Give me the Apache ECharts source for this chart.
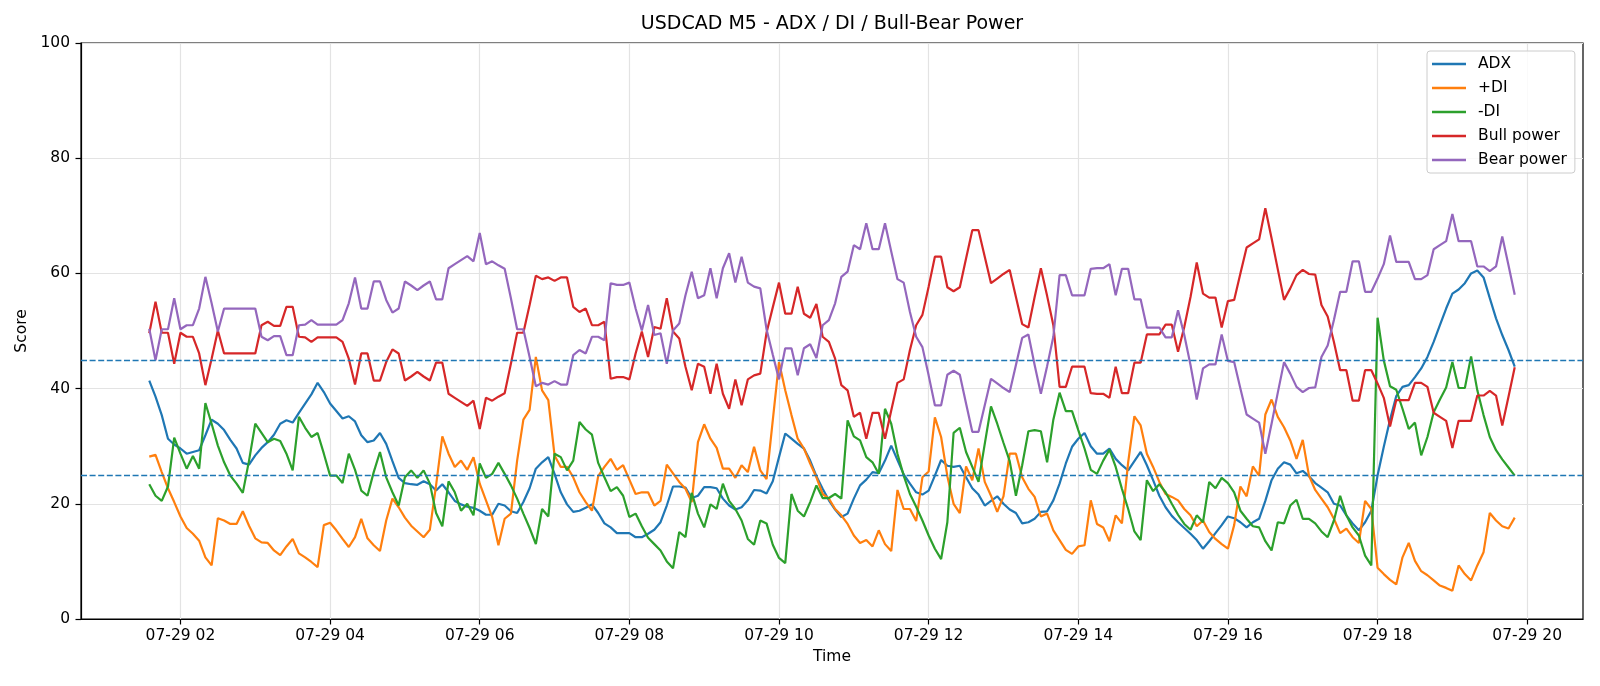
<!DOCTYPE html>
<html>
<head>
<meta charset="utf-8">
<title>USDCAD M5 - ADX / DI / Bull-Bear Power</title>
<script src="https://cdn.jsdelivr.net/npm/echarts@6/dist/echarts.min.js"></script>
<style>
  html, body { margin: 0; padding: 0; background: #fff; }
  #chart { width: 1600px; height: 686px; }
</style>
</head>
<body>
<div id="chart"></div>
<script>
// 5 minute bars, 07-29 01:35 .. 19:50
const startTime = Date.UTC(2024, 6, 29, 1, 35)
const stepMs = 5 * 60 * 1000

const adx = [
  41.4, 38.6, 35.4, 31.3, 30.3, 29.6, 28.7, 29.0, 29.3, 31.9,
  34.6, 33.9, 32.8, 31.1, 29.6, 27.1, 26.8, 28.4, 29.7, 30.7,
  32.0, 33.9, 34.5, 34.1, 35.8, 37.4, 39.0, 41.0, 39.4, 37.4,
  36.1, 34.8, 35.2, 34.3, 31.9, 30.7, 31.0, 32.3, 30.4, 27.4,
  24.5, 23.6, 23.4, 23.3, 23.9, 23.4, 22.3, 23.4, 22.0, 20.5,
  19.9, 19.5, 19.3, 18.8, 18.1, 18.1, 20.0, 19.7, 18.7, 18.4,
  20.3, 22.7, 26.1, 27.2, 28.1, 25.2, 22.0, 19.9, 18.6, 18.8,
  19.3, 19.9, 18.4, 16.6, 15.9, 14.9, 14.9, 14.9, 14.2, 14.2,
  14.8, 15.5, 16.8, 19.7, 23.0, 23.0, 22.8, 21.0, 21.4, 22.9,
  22.9, 22.7, 20.9, 19.7, 19.0, 19.4, 20.6, 22.4, 22.3, 21.8,
  23.9, 28.1, 32.2, 31.3, 30.4, 29.6, 27.5, 24.8, 22.6, 20.6,
  19.0, 17.7, 18.3, 20.9, 23.2, 24.2, 25.5, 25.3, 27.5, 30.1,
  27.6, 25.1, 23.5, 22.0, 21.6, 22.3, 24.9, 27.6, 26.6, 26.4,
  26.6, 24.6, 22.7, 21.6, 19.7, 20.5, 21.3, 20.0, 19.0, 18.4,
  16.6, 16.8, 17.4, 18.6, 18.7, 20.6, 23.5, 27.0, 29.9, 31.3,
  32.3, 30.0, 28.7, 28.7, 29.6, 27.8, 26.7, 25.8, 27.4, 29.0,
  26.7, 24.1, 21.4, 19.4, 17.9, 16.8, 15.8, 14.8, 13.7, 12.2,
  13.5, 14.9, 16.3, 17.8, 17.5, 16.8, 15.9, 16.8, 17.4, 20.5,
  24.1, 26.1, 27.2, 26.8, 25.3, 25.7, 24.8, 23.6, 22.8, 22.0,
  20.0, 19.7, 18.0, 16.6, 15.4, 16.8, 18.8, 24.9, 29.9, 34.6,
  38.7, 40.3, 40.6, 42.0, 43.5, 45.5, 48.1, 51.0, 53.9, 56.5,
  57.2, 58.3, 60.0, 60.5, 59.3, 55.7, 52.2, 49.3, 46.7, 43.8
]

const plusDi = [
  28.2, 28.5, 25.5, 22.7, 20.3, 17.8, 15.8, 14.8, 13.6, 10.7,
  9.3, 17.5, 17.1, 16.5, 16.5, 18.7, 16.2, 14.0, 13.3, 13.2,
  11.9, 11.1, 12.6, 13.9, 11.4, 10.7, 9.9, 9.0, 16.3, 16.7,
  15.4, 13.9, 12.5, 14.2, 17.4, 14.0, 12.8, 11.8, 17.1, 20.9,
  19.4, 17.6, 16.2, 15.2, 14.2, 15.5, 23.2, 31.7, 28.7, 26.4,
  27.5, 25.9, 28.1, 23.5, 20.6, 17.7, 12.8, 17.4, 18.3, 27.5,
  34.6, 36.3, 45.5, 39.7, 38.0, 28.4, 26.4, 26.4, 24.6, 22.0,
  20.3, 18.8, 24.8, 26.4, 27.8, 25.9, 26.7, 24.2, 21.7, 22.0,
  22.0, 19.7, 20.5, 26.8, 25.3, 23.8, 22.6, 20.3, 30.7, 33.8,
  31.3, 29.7, 26.1, 26.1, 24.5, 26.7, 25.5, 29.9, 25.8, 24.3,
  34.5, 44.6, 39.7, 35.4, 31.3, 29.6, 27.0, 24.6, 21.7, 20.9,
  19.1, 18.0, 16.5, 14.5, 13.2, 13.7, 12.6, 15.4, 13.0, 11.8,
  22.4, 19.1, 19.1, 17.0, 24.6, 25.6, 35.0, 31.6, 24.8, 20.0,
  18.4, 26.5, 24.1, 29.6, 23.8, 21.4, 18.6, 21.3, 28.7, 28.7,
  24.6, 22.6, 21.2, 17.8, 18.3, 15.4, 13.7, 12.0, 11.3, 12.6,
  12.8, 20.6, 16.5, 15.9, 13.5, 18.0, 16.6, 27.2, 35.2, 33.6,
  28.7, 26.4, 23.8, 21.7, 21.2, 20.6, 19.1, 18.0, 16.1, 17.1,
  15.1, 13.9, 13.0, 12.2, 16.3, 23.0, 21.3, 26.5, 24.9, 35.5,
  38.1, 35.1, 33.3, 31.0, 27.8, 31.1, 24.9, 22.4, 20.9, 19.4,
  17.4, 14.9, 15.7, 14.2, 13.2, 20.5, 19.1, 8.9, 7.8, 6.8,
  6.0, 10.7, 13.2, 10.1, 8.3, 7.6, 6.7, 5.8, 5.4, 4.9,
  9.3, 7.8, 6.7, 9.3, 11.6, 18.4, 17.1, 16.1, 15.7, 17.6
]

const minusDi = [
  23.4, 21.4, 20.5, 23.0, 31.5, 28.7, 26.1, 28.3, 26.1, 37.5,
  33.9, 30.1, 27.2, 24.9, 23.5, 21.9, 27.5, 33.9, 32.3, 30.7,
  31.3, 30.9, 28.7, 25.8, 35.1, 33.2, 31.6, 32.3, 28.7, 24.9,
  24.9, 23.6, 28.7, 25.9, 22.3, 21.4, 25.5, 29.0, 24.6, 22.0,
  19.7, 24.6, 25.8, 24.5, 25.8, 23.5, 18.4, 16.1, 23.9, 22.0,
  18.8, 20.0, 18.0, 27.0, 24.5, 25.2, 27.1, 25.2, 23.2, 20.9,
  18.3, 15.8, 13.0, 19.1, 17.8, 28.7, 28.1, 25.8, 27.5, 34.2,
  32.9, 32.0, 27.1, 24.6, 22.2, 22.9, 21.4, 17.7, 18.3, 16.1,
  14.1, 13.0, 11.9, 10.0, 8.8, 15.1, 14.2, 21.9, 18.3, 15.9,
  19.9, 19.1, 23.5, 20.5, 19.1, 17.1, 13.9, 12.9, 17.1, 16.6,
  12.9, 10.6, 9.7, 21.7, 18.8, 17.8, 20.3, 23.2, 21.0, 21.0,
  21.7, 20.9, 34.5, 31.7, 31.0, 28.1, 27.2, 25.2, 36.5, 33.9,
  28.7, 24.9, 21.7, 19.5, 17.1, 14.5, 12.2, 10.4, 16.8, 32.3,
  33.2, 29.0, 26.4, 23.8, 30.4, 36.9, 33.9, 30.6, 27.4, 21.4,
  26.7, 32.6, 32.8, 32.6, 27.2, 34.6, 39.3, 36.1, 36.1, 32.8,
  29.6, 25.9, 25.2, 27.5, 29.4, 26.4, 22.6, 19.1, 15.2, 13.7,
  24.1, 22.2, 23.4, 22.0, 20.0, 18.1, 16.5, 15.5, 18.0, 16.8,
  23.8, 22.7, 24.5, 23.6, 22.0, 18.8, 17.4, 16.1, 15.9, 13.5,
  11.9, 16.8, 16.6, 19.7, 20.7, 17.4, 17.4, 16.6, 15.2, 14.2,
  17.1, 21.4, 18.0, 15.9, 14.5, 11.0, 9.3, 52.3, 44.9, 40.4,
  39.8, 36.5, 33.0, 34.1, 28.4, 31.6, 35.9, 38.1, 40.2, 44.6,
  40.1, 40.1, 45.6, 39.7, 35.4, 31.6, 29.3, 27.7, 26.3, 24.9
]

const bullPower = [
  49.6, 55.1, 49.7, 49.7, 44.3, 49.7, 49.0, 49.0, 46.1, 40.6,
  45.2, 50.1, 46.1, 46.1, 46.1, 46.1, 46.1, 46.1, 51.0, 51.6,
  50.9, 50.9, 54.2, 54.2, 49.0, 48.9, 48.1, 48.9, 48.9, 48.9,
  48.9, 48.1, 45.2, 40.7, 46.1, 46.1, 41.4, 41.4, 44.6, 46.8,
  46.1, 41.4, 42.1, 42.9, 42.1, 41.4, 44.5, 44.5, 39.1, 38.4,
  37.7, 37.0, 37.9, 33.0, 38.4, 37.9, 38.6, 39.2, 44.3, 49.7,
  49.7, 54.5, 59.6, 59.0, 59.3, 58.7, 59.3, 59.3, 54.2, 53.3,
  53.9, 51.0, 51.0, 51.6, 41.7, 42.0, 42.0, 41.6, 46.1, 49.9,
  45.5, 50.7, 50.4, 55.7, 49.9, 48.7, 43.8, 39.7, 44.3, 43.8,
  39.1, 44.3, 39.1, 36.5, 41.6, 37.1, 41.6, 42.3, 42.6, 49.7,
  54.1, 58.4, 53.0, 53.0, 57.7, 53.0, 52.3, 54.7, 49.0, 48.1,
  45.2, 40.6, 39.7, 35.1, 35.8, 31.3, 35.8, 35.8, 31.3, 36.2,
  41.0, 41.6, 46.7, 51.0, 52.8, 57.7, 62.9, 62.9, 57.6, 56.9,
  57.6, 62.6, 67.5, 67.5, 62.9, 58.3, 59.1, 59.9, 60.6, 55.9,
  51.2, 50.6, 55.9, 60.9, 56.1, 51.0, 40.3, 40.3, 43.8, 43.8,
  43.8, 39.2, 39.1, 39.1, 38.4, 43.8, 39.2, 39.2, 44.5, 44.5,
  49.4, 49.4, 49.4, 51.1, 51.1, 46.4, 50.7, 55.9, 61.9, 56.5,
  55.8, 55.8, 50.6, 55.2, 55.4, 60.0, 64.5, 65.2, 65.9, 71.3,
  66.1, 60.7, 55.4, 57.4, 59.7, 60.6, 59.9, 59.8, 54.5, 52.5,
  48.1, 43.2, 43.2, 37.9, 37.9, 43.2, 43.2, 40.9, 38.4, 33.4,
  38.0, 38.0, 38.0, 41.0, 41.0, 40.3, 35.8, 35.1, 34.4, 29.7,
  34.4, 34.4, 34.4, 38.8, 38.8, 39.6, 38.8, 33.6, 38.6, 43.7
]

const bearPower = [
  50.4, 44.9, 50.3, 50.3, 55.7, 50.3, 51.0, 51.0, 53.9, 59.4,
  54.8, 49.9, 53.9, 53.9, 53.9, 53.9, 53.9, 53.9, 49.0, 48.4,
  49.1, 49.1, 45.8, 45.8, 51.0, 51.1, 51.9, 51.1, 51.1, 51.1,
  51.1, 51.9, 54.8, 59.3, 53.9, 53.9, 58.6, 58.6, 55.4, 53.2,
  53.9, 58.6, 57.9, 57.1, 57.9, 58.6, 55.5, 55.5, 60.9, 61.6,
  62.3, 63.0, 62.1, 67.0, 61.6, 62.1, 61.4, 60.8, 55.7, 50.3,
  50.3, 45.5, 40.4, 41.0, 40.7, 41.3, 40.7, 40.7, 45.8, 46.7,
  46.1, 49.0, 49.0, 48.4, 58.3, 58.0, 58.0, 58.4, 53.9, 50.1,
  54.5, 49.3, 49.6, 44.3, 50.1, 51.3, 56.2, 60.3, 55.7, 56.2,
  60.9, 55.7, 60.9, 63.5, 58.4, 62.9, 58.4, 57.7, 57.4, 50.3,
  45.9, 41.6, 47.0, 47.0, 42.3, 47.0, 47.7, 45.3, 51.0, 51.9,
  54.8, 59.4, 60.3, 64.9, 64.2, 68.7, 64.2, 64.2, 68.7, 63.8,
  59.0, 58.4, 53.3, 49.0, 47.2, 42.3, 37.1, 37.1, 42.4, 43.1,
  42.4, 37.4, 32.5, 32.5, 37.1, 41.7, 40.9, 40.1, 39.4, 44.1,
  48.8, 49.4, 44.1, 39.1, 43.9, 49.0, 59.7, 59.7, 56.2, 56.2,
  56.2, 60.8, 60.9, 60.9, 61.6, 56.2, 60.8, 60.8, 55.5, 55.5,
  50.6, 50.6, 50.6, 48.9, 48.9, 53.6, 49.3, 44.1, 38.1, 43.5,
  44.2, 44.2, 49.4, 44.8, 44.6, 40.0, 35.5, 34.8, 34.1, 28.7,
  33.9, 39.3, 44.6, 42.6, 40.3, 39.4, 40.1, 40.2, 45.5, 47.5,
  51.9, 56.8, 56.8, 62.1, 62.1, 56.8, 56.8, 59.1, 61.6, 66.6,
  62.0, 62.0, 62.0, 59.0, 59.0, 59.7, 64.2, 64.9, 65.6, 70.3,
  65.6, 65.6, 65.6, 61.2, 61.2, 60.4, 61.2, 66.4, 61.4, 56.3
]

const tickHours = [2, 4, 6, 8, 10, 12, 14, 16, 18, 20]
const levels = [25, 45]

const times = adx.map((_, i) => startTime + i * stepMs)
// matplotlib style 5% margin on each side of the data
const span = times[times.length - 1] - times[0]
const xMin = times[0] - span * 0.05
const xMax = times[times.length - 1] + span * 0.05
const xTicks = tickHours.map(h => Date.UTC(2024, 6, 29, h, 0))

const font = 'DejaVu Sans'
const pad2 = n => String(n).padStart(2, '0')

function fmtTime(v) {
  const d = new Date(v)
  return pad2(d.getUTCMonth() + 1) + '-' + pad2(d.getUTCDate()) + ' ' + pad2(d.getUTCHours())
}

const seriesDefs = [
  { name: 'ADX', values: adx, color: '#1f77b4' },
  { name: '+DI', values: plusDi, color: '#ff7f0e' },
  { name: '-DI', values: minusDi, color: '#2ca02c' },
  { name: 'Bull power', values: bullPower, color: '#d62728' },
  { name: 'Bear power', values: bearPower, color: '#9467bd' }
]

const series = seriesDefs.map(s => ({
  name: s.name,
  type: 'line',
  data: s.values.map((v, i) => [times[i], v]),
  symbol: 'none',
  showSymbol: false,
  sampling: null,
  color: s.color,
  lineStyle: { color: s.color, width: 2.2 },
  emphasis: { disabled: true }
}))

// dashed reference levels
series[series.length - 1].markLine = {
  silent: true,
  symbol: 'none',
  label: { show: false },
  lineStyle: { color: '#1f77b4', type: [6, 2.6], width: 1.4 },
  data: levels.map(v => ({ yAxis: v }))
}

const chart = echarts.init(document.getElementById('chart'))
chart.setOption({
  animation: false,
  backgroundColor: '#fff',
  title: {
    text: 'USDCAD M5 - ADX / DI / Bull-Bear Power',
    left: 832,
    top: 15,
    padding: 0,
    textAlign: 'center',
    textStyle: { fontFamily: font, fontSize: 19, fontWeight: 'normal', color: '#000' }
  },
  legend: {
    orient: 'vertical',
    left: 1427,
    top: 51,
    icon: 'rect',
    itemWidth: 34,
    itemHeight: 2.4,
    itemGap: 8,
    padding: [5, 8, 5, 5],
    backgroundColor: 'rgba(255,255,255,0.8)',
    borderColor: '#cccccc',
    borderWidth: 1,
    borderRadius: 3,
    textStyle: { fontFamily: font, fontSize: 15.5, color: '#000', lineHeight: 14, padding: [0, 0, 0, 7] },
    data: seriesDefs.map(s => s.name)
  },
  grid: {
    left: 81, right: 17, top: 43, bottom: 67,
    show: true, borderColor: '#000', borderWidth: 1.2
  },
  xAxis: {
    type: 'value',
    min: xMin,
    max: xMax,
    name: 'Time',
    nameLocation: 'middle',
    nameGap: 29,
    nameTextStyle: { fontFamily: font, fontSize: 15.5, color: '#000' },
    axisLine: { show: true, lineStyle: { color: '#000', width: 1.2 } },
    axisTick: { show: true, length: 5.5, customValues: xTicks, lineStyle: { color: '#000', width: 1.2 } },
    axisLabel: {
      customValues: xTicks,
      margin: 9,
      fontFamily: font, fontSize: 15.5, color: '#000',
      formatter: fmtTime
    },
    splitLine: { show: true, lineStyle: { color: '#e3e3e3', width: 1.2 } }
  },
  yAxis: {
    type: 'value',
    min: 0,
    max: 100,
    interval: 20,
    name: 'Score',
    nameLocation: 'middle',
    nameGap: 42,
    nameTextStyle: { fontFamily: font, fontSize: 15.5, color: '#000' },
    axisLine: { show: true, lineStyle: { color: '#000', width: 1.2 } },
    axisTick: { show: true, length: 5.5, lineStyle: { color: '#000', width: 1.2 } },
    axisLabel: { margin: 11, fontFamily: font, fontSize: 15.5, color: '#000' },
    splitLine: { show: true, lineStyle: { color: '#e3e3e3', width: 1.2 } }
  },
  series: series
})
</script>
</body>
</html>
